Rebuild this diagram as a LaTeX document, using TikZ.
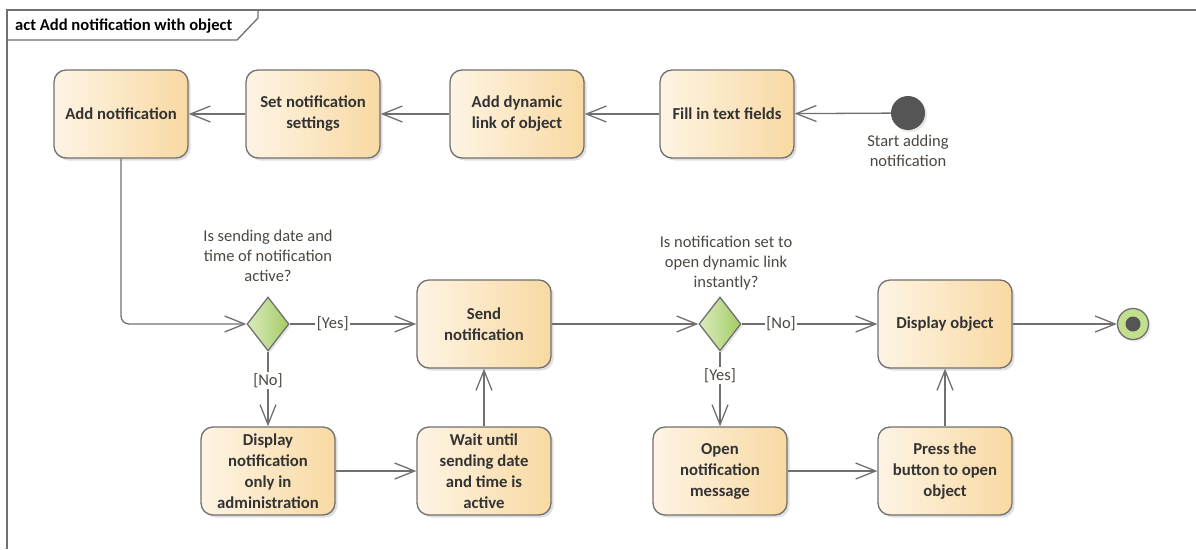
\documentclass[tikz,border=0pt]{standalone}
\usepackage{fontspec}
\setmainfont{Carlito}
\usetikzlibrary{arrows.meta,shapes.geometric,shadows}

\definecolor{lineC}{HTML}{707070}
\definecolor{actL}{HTML}{FEF4E4}
\definecolor{actR}{HTML}{F8D9A2}
\definecolor{decL}{HTML}{DAECBE}
\definecolor{decR}{HTML}{A4CB62}
\definecolor{txtC}{HTML}{333333}
\definecolor{lblC}{HTML}{4E4640}
\definecolor{dotC}{HTML}{555555}
\definecolor{finC}{HTML}{C2DF8E}

\begin{document}
\begin{tikzpicture}[x=1pt,y=-1pt,
  act/.style={draw=lineC, line width=1.3pt, rounded corners=12pt,
    minimum width=134pt, minimum height=88pt, align=center,
    left color=actL, right color=actR,
    font=\fontsize{16.7}{21}\selectfont\bfseries, text=txtC,
    drop shadow={shadow xshift=2.5pt, shadow yshift=-2.5pt, opacity=0.25}},
  dec/.style={diamond, draw=lineC, line width=1.3pt, minimum width=42pt,
    minimum height=54pt, inner sep=0pt, left color=decL, right color=decR,
    drop shadow={shadow xshift=2pt, shadow yshift=-2pt, opacity=0.2}},
  lbl/.style={font=\fontsize{16.5}{20}\selectfont, text=lblC, align=center, inner sep=1pt},
  guard/.style={lbl, fill=white, inner sep=1.5pt},
  flow/.style={draw=lineC, line width=1.3pt,
    -{Straight Barb[length=20pt,width=16pt,line width=1.3pt]}}
]
\useasboundingbox (0,0) rectangle (1196,549);

% frame
\draw[lineC, line width=1.6pt] (7,549) -- (7,10) -- (1196,10);
\draw[lineC, line width=1.3pt] (7,40) -- (237,40) -- (258,18) -- (258,10);
\node[anchor=base west, inner sep=0pt, font=\fontsize{16.6}{20}\selectfont\bfseries, text=black] (title) at (15,30) {act Add notification with object};

% top row
\node[act] (add)  at (121,114) {Add notification};
\node[act] (set)  at (313,114) {Set notification\\settings};
\node[act] (dyn)  at (517,114) {Add dynamic\\link of object};
\node[act] (fill) at (727,114) {Fill in text fields};
\node[circle, fill=dotC, minimum size=34pt, inner sep=0pt,
  drop shadow={shadow xshift=2pt, shadow yshift=-2pt, opacity=0.2}] (init) at (908,113) {};
\node[lbl] (initlbl) at (908,151) {Start adding\\notification};

% middle row
\node[dec] (d1) at (268,324) {};
\node[lbl] (q1) at (268,256) {Is sending date and\\time of notification\\active?};
\node[act] (send) at (484,324) {Send\\notification};
\node[dec] (d2) at (720,324) {};
\node[lbl] (q2) at (726,263) {Is notification set to\\open dynamic link\\instantly?};
\node[act] (dobj) at (945,324) {Display object};
\node[circle, draw=lineC, line width=1.3pt, fill=finC, minimum size=31pt, inner sep=0pt,
  drop shadow={shadow xshift=2pt, shadow yshift=-2pt, opacity=0.2}] (final) at (1133,324) {};
\fill[dotC] (final.center) circle (7.5pt);

% bottom row
\node[act] (dispn) at (268,471) {Display\\notification\\only in\\administration};
\node[act] (wait)  at (484,471) {Wait until\\sending date\\and time is\\active};
\node[act] (open)  at (720,471) {Open\\notification\\message};
\node[act] (press) at (945,471) {Press the\\button to open\\object};

% flows
\draw[flow] (init) -- (fill);
\draw[flow] (fill) -- (dyn);
\draw[flow] (dyn) -- (set);
\draw[flow] (set) -- (add);
\draw[flow, rounded corners=8pt] (add.south) |- (d1.west);
\draw[flow] (d1.east) -- node[guard, pos=0.34] {[Yes]} (send.west);
\draw[flow] (d1.south) -- node[guard, pos=0.39] {[No]} (dispn.north);
\draw[flow] (dispn) -- (wait);
\draw[flow] (wait) -- (send);
\draw[flow] (send) -- (d2.west);
\draw[flow] (d2.east) -- node[guard, pos=0.29] {[No]} (dobj.west);
\draw[flow] (d2.south) -- node[guard, pos=0.32] {[Yes]} (open.north);
\draw[flow] (open) -- (press);
\draw[flow] (press) -- (dobj);
\draw[flow] (dobj) -- (final);
\end{tikzpicture}
\end{document}
